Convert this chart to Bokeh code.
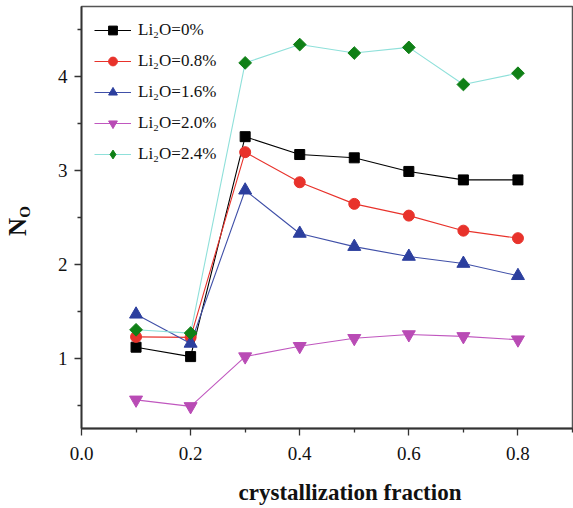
import numpy as np
from bokeh.plotting import figure
from bokeh.models import (Legend, LegendItem, Range1d, FixedTicker, LinearAxis,
                          CustomJSTickFormatter)
from bokeh.embed import file_html
from bokeh.resources import INLINE

x = [0.1, 0.2, 0.3, 0.4, 0.5, 0.6, 0.7, 0.8]
li0 = [1.12, 1.02, 3.36, 3.17, 3.135, 2.99, 2.90, 2.90]
li08 = [1.23, 1.225, 3.195, 2.875, 2.645, 2.52, 2.36, 2.28]
li16 = [1.47, 1.16, 2.79, 2.33, 2.19, 2.085, 2.01, 1.88]
li20 = [0.56, 0.49, 1.02, 1.13, 1.215, 1.255, 1.235, 1.20]
li24 = [1.305, 1.27, 4.145, 4.34, 4.25, 4.31, 3.915, 4.035]
labels = ["Li\u2082O=0%", "Li\u2082O=0.8%", "Li\u2082O=1.6%", "Li\u2082O=2.0%", "Li\u2082O=2.4%"]
x_ticks = [0.0, 0.2, 0.4, 0.6, 0.8]
x_minor = [0.1, 0.3, 0.5, 0.7, 0.9]
y_ticks = [1, 2, 3, 4]
y_minor = [0.5, 1.5, 2.5, 3.5, 4.5]

FONT = "Liberation Serif"
NB = "\u00a0"

p = figure(width=573, height=508, output_backend="svg", toolbar_location=None,
           x_range=Range1d(0, 0.9), y_range=Range1d(0.255, 4.745),
           min_border_left=77, min_border_right=1, min_border_top=6, min_border_bottom=80)
p.background_fill_color = "white"
p.border_fill_color = "white"
p.grid.visible = False
p.outline_line_color = "#555555"
p.outline_line_width = 1.5

for ax in (p.xaxis, p.yaxis):
    ax.axis_line_color = "#333333"
    ax.axis_line_width = 1.8
    ax.major_tick_line_color = "#333333"
    ax.minor_tick_line_color = "#333333"
    ax.major_tick_line_width = 1.3
    ax.minor_tick_line_width = 1.3
    ax.major_tick_in = 0
    ax.major_tick_out = 7
    ax.minor_tick_in = 0
    ax.minor_tick_out = 4
    ax.major_label_text_font = FONT
    ax.major_label_text_font_size = "19px"
    ax.major_label_text_color = "#111111"
    ax.axis_label_text_font = FONT
    ax.axis_label_text_font_style = "bold"
    ax.axis_label_text_color = "#111111"

p.xaxis.ticker = FixedTicker(ticks=x_ticks, minor_ticks=x_minor)
p.yaxis.ticker = FixedTicker(ticks=y_ticks, minor_ticks=y_minor)
p.xaxis.formatter = CustomJSTickFormatter(code="return tick.toFixed(1);")
p.xaxis.major_label_standoff = 11
p.yaxis.major_label_standoff = 7

p.xaxis.axis_label = NB * 8 + "crystallization fraction"
p.xaxis.axis_label_text_font_size = "23px"
p.xaxis.axis_label_standoff = 17

# subscript "O" on the primary y axis, "N" on an outer label-only axis
p.yaxis.axis_label = NB * 3 + "O"
p.yaxis.axis_label_text_font_size = "15px"
p.yaxis.axis_label_standoff = 22

n_axis = LinearAxis(ticker=FixedTicker(ticks=[]), axis_line_color=None,
                    major_tick_line_color=None, minor_tick_line_color=None,
                    major_tick_out=0, minor_tick_out=0, major_label_standoff=0,
                    major_label_text_font_size="0px",
                    axis_label="N" + NB * 3, axis_label_text_font=FONT,
                    axis_label_text_font_size="25px", axis_label_text_font_style="bold",
                    axis_label_text_color="#111111", axis_label_standoff=-17)
p.add_layout(n_axis, "left")

series = [
    (li0, "#000000", "#000000", "square", 10, 0.0),
    (li08, "#e8322b", "#e8322b", "circle", 11, 0.0),
    (li16, "#4050a8", "#2c3f9e", "triangle", 13, 0.0),
    (li20, "#c057bf", "#b94bb5", "inverted_triangle", 13, 0.0),
    (li24, "#8fe0da", "#0f8016", "square", 9, np.pi / 4),
]
legend_markers = ["square", "circle", "triangle", "inverted_triangle", "diamond"]

items = []
for (ys, lc, mc, marker, size, ang), lab, lm in zip(series, labels, legend_markers):
    r1 = p.line(x, ys, line_color=lc, line_width=1.1)
    r2 = p.scatter(x, ys, marker=marker, size=size, angle=ang,
                   fill_color=mc, line_color=mc)
    rs = [r1, r2]
    if lm != marker:
        # legend-only glyph (hidden in the plot) so the key shows a diamond
        r3 = p.scatter(x, ys, marker=lm, size=size, fill_color=mc, line_color=mc,
                       visible=False)
        rs = [r1, r3]
    items.append(LegendItem(label=lab, renderers=rs))

legend = Legend(items=items, location="top_left", margin=13, padding=0,
                glyph_width=37, glyph_height=22, label_height=22, spacing=9,
                label_standoff=7, label_text_font=FONT, label_text_font_size="17px",
                label_text_color="#111111",
                background_fill_alpha=0, border_line_color=None)
p.add_layout(legend)

open("out.html", "w").write(file_html(p, INLINE))
